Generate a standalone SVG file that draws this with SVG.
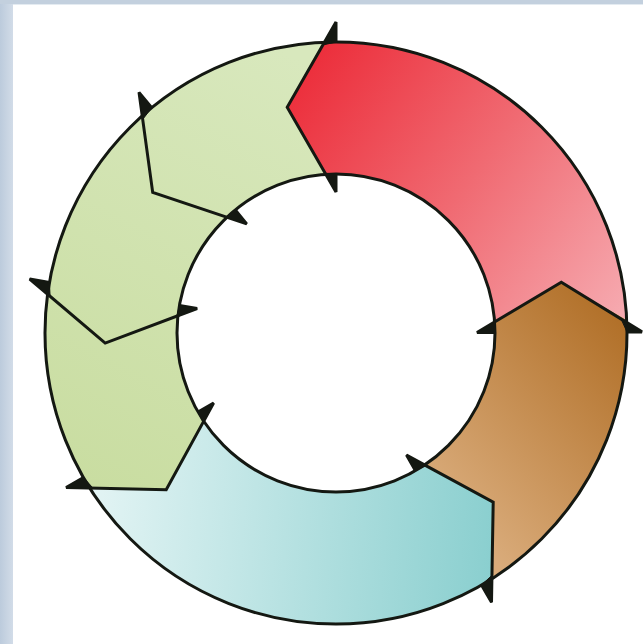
<svg xmlns="http://www.w3.org/2000/svg" width="643" height="644" viewBox="0 0 643 644">
  <defs>
    <style>
      .ln { fill: none; stroke: #141812; stroke-width: 3; stroke-linejoin: miter; stroke-miterlimit: 3; }
      .barb { fill: #141812; stroke: #141812; stroke-width: 1; stroke-linejoin: miter; }
    </style>
    <clipPath id="annulus">
      <path clip-rule="evenodd" d="M627,333 A291,291 0 1 0 45,333 A291,291 0 1 0 627,333 Z M495,333 A159,159 0 1 0 177,333 A159,159 0 1 0 495,333 Z"/>
    </clipPath>
    <linearGradient id="gRed" gradientUnits="userSpaceOnUse" x1="290" y1="80" x2="620" y2="320">
      <stop offset="0" stop-color="#ec2d3a"/>
      <stop offset="0.5" stop-color="#f06a72"/>
      <stop offset="1" stop-color="#f6aab0"/>
    </linearGradient>
    <linearGradient id="gBrown" gradientUnits="userSpaceOnUse" x1="625" y1="330" x2="440" y2="500">
      <stop offset="0" stop-color="#b2712a"/>
      <stop offset="1" stop-color="#d9ab7a"/>
    </linearGradient>
    <linearGradient id="gTeal" gradientUnits="userSpaceOnUse" x1="90" y1="500" x2="495" y2="530">
      <stop offset="0" stop-color="#e3f4f4"/>
      <stop offset="1" stop-color="#8acfcf"/>
    </linearGradient>
    <linearGradient id="gGreen" gradientUnits="userSpaceOnUse" x1="300" y1="60" x2="80" y2="480">
      <stop offset="0" stop-color="#d8e8bd"/>
      <stop offset="1" stop-color="#c9dda1"/>
    </linearGradient>
    <linearGradient id="gLeft" x1="0" y1="0" x2="1" y2="0">
      <stop offset="0" stop-color="#bccbdc"/>
      <stop offset="1" stop-color="#d2dce8"/>
    </linearGradient>
  </defs>

  <rect x="0" y="0" width="643" height="644" fill="#ffffff"/>
  <rect x="0" y="0" width="13" height="644" fill="url(#gLeft)"/>
  <rect x="0" y="0" width="643" height="4" fill="#c3d0de"/>
  <rect x="13" y="4" width="630" height="1" fill="#e4ebf1"/>

  <g clip-path="url(#annulus)">
    <g id="arrow-red">
      <path fill="url(#gRed)" d="M477,332.5 L561.3,282.2 L647,331.9 L756,331.5 A420,420 0 0 0 336,-87 L336,22 L287.2,107.2 L336,192 L336,333 Z"/>
    </g>
    <g id="arrow-green-1">
      <path fill="url(#gGreen)" d="M336,192 L287.2,107.2 L336,22 L336,-87 A420,420 0 0 0 70,8 L139,92.4 L152.7,192.4 L246.7,223.9 L336,333 Z"/>
    </g>
    <g id="arrow-green-2">
      <path fill="url(#gGreen)" d="M246.7,223.9 L152.7,192.4 L139,92.4 L70,8 A420,420 0 0 0 -77.6,260.1 L29.7,279 L105.2,343.1 L197.1,308.5 L336,333 Z"/>
    </g>
    <g id="arrow-green-3">
      <path fill="url(#gGreen)" d="M197.1,308.5 L105.2,343.1 L29.7,279 L-77.6,260.1 A420,420 0 0 0 -28.5,541.7 L66.1,487.6 L166.2,489.7 L213.6,403.1 L336,333 Z"/>
    </g>
    <g id="arrow-teal">
      <path fill="url(#gTeal)" d="M213.6,403.1 L166.2,489.7 L66.1,487.6 L-28.5,541.7 A420,420 0 0 0 546,696.7 L491.5,602.3 L493.2,502.2 L406.5,455.1 L336,333 Z"/>
    </g>
    <g id="arrow-brown">
      <path fill="url(#gBrown)" d="M406.5,455.1 L493.2,502.2 L491.5,602.3 L546,696.7 A420,420 0 0 0 756,331.5 L647,331.9 L561.3,282.2 L477,332.5 L336,333 Z"/>
    </g>
  </g>

  <g id="connectors">
    <circle class="ln" cx="336" cy="333" r="291"/>
    <circle class="ln" cx="336" cy="333" r="159"/>
    <path class="ln" d="M627,332 L642,331.9 L561.3,282.2 L477,332.5 L495,332.4"/>
    <path class="ln" d="M336,42 L336,22 L287.2,107.2 L336,192 L336,174"/>
    <path class="ln" d="M151.7,107.8 L139,92.4 L152.7,192.4 L246.7,223.9 L235.3,210"/>
    <path class="ln" d="M49.4,282.5 L29.7,279 L105.2,343.1 L197.1,308.5 L179.4,305.4"/>
    <path class="ln" d="M83.5,477.6 L66.1,487.6 L166.2,489.7 L213.6,403.1 L198,412"/>
    <path class="ln" d="M481.5,585 L491.5,602.3 L493.2,502.2 L406.5,455.1 L415.5,470.7"/>
    <path class="barb" d="M627,332 L642,332 L620.9,318.6 Z M495,332.4 L477,332.5 L495.5,321.4 Z"/>
    <path class="barb" d="M336,42 L336,22 L322.8,45 Z M336,174 L336,192 L325.3,173.3 Z"/>
    <path class="barb" d="M151.7,107.8 L139,92.4 L142.7,119.4 Z M235.3,210 L246.7,223.9 L226,217 Z"/>
    <path class="barb" d="M49.4,282.5 L29.7,279 L50.1,296.3 Z M179.4,305.4 L197.1,308.5 L176.9,316.1 Z"/>
    <path class="barb" d="M83.5,477.6 L66.1,487.6 L93.1,488.2 Z M198,412 L213.6,403.1 L203.2,422.2 Z"/>
    <path class="barb" d="M481.5,585 L491.5,602.3 L492,575.3 Z M415.5,470.7 L406.5,455.1 L425.6,465.5 Z"/>
  </g>
</svg>
